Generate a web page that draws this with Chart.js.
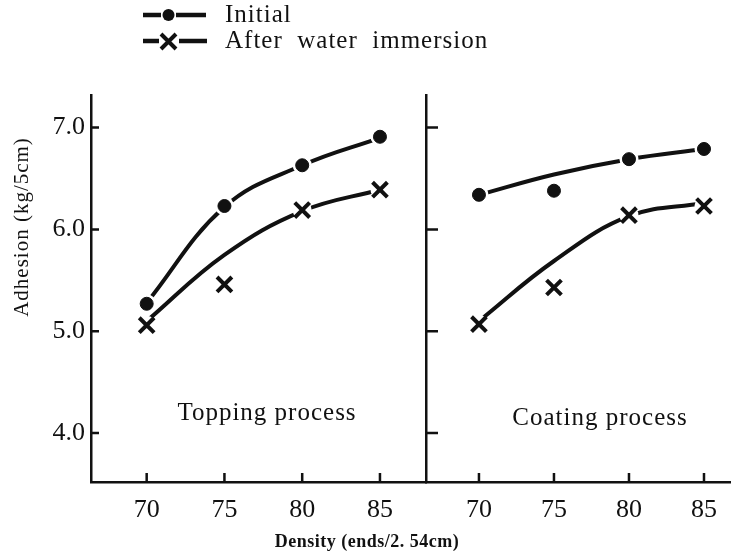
<!DOCTYPE html>
<html>
<head>
<meta charset="utf-8">
<script src="https://cdn.jsdelivr.net/npm/chart.js@4.4.4/dist/chart.umd.min.js"></script>
<style>
  body { margin: 0; background: #fff; }
  #wrap { position: relative; width: 731px; height: 554px; overflow: hidden; }
  canvas { position: absolute; top: 0; }
</style>
</head>
<body>
<div id="wrap">
  <canvas id="topping" width="731" height="554" style="left:0"></canvas>
  <canvas id="coating" width="315" height="554" style="left:416px"></canvas>
</div>
<script>
// Density (ends/2.54cm) on the x axis, adhesion (kg/5cm) on the y axis.
const densities = [70, 75, 80, 85];
const xTicks = [70, 75, 80, 85];
const yTicks = [4, 5, 6, 7];

const toppingInitial = [5.27, 6.23, 6.63, 6.91];
const toppingWater = [5.06, 5.46, 6.19, 6.39];
const coatingInitial = [6.34, 6.38, 6.69, 6.79];
const coatingWater = [5.07, 5.43, 6.14, 6.23];

// hand-drawn trend curves through the points
const toppingInitialFit = [5.28, 6.22, 6.63, 6.90];
const toppingWaterFit = [5.10, 5.75, 6.18, 6.39];
const coatingInitialFit = [6.34, 6.54, 6.69, 6.79];
const coatingWaterFit = [5.10, 5.69, 6.13, 6.26];

const INK = '#111';
const SERIF = '"Liberation Serif", "DejaVu Serif", serif';

function pts(values) {
  return densities.map((x, i) => ({ x, y: values[i] }));
}

// datasets draw first-on-top, so markers go first, then a white halo
// (the scanned curves break off just short of each marker), then curves
function panelDatasets(initial, water, initialFit, waterFit) {
  return [
    { label: 'Initial', data: pts(initial), showLine: false, pointStyle: 'circle',
      pointRadius: 6.5, backgroundColor: INK, borderColor: INK, borderWidth: 1 },
    { label: 'After water immersion', data: pts(water), showLine: false, pointStyle: 'crossRot',
      pointRadius: 10.5, borderColor: INK, borderWidth: 4 },
    { label: 'halo', data: pts(initial).concat(pts(water)), showLine: false, pointStyle: 'circle',
      pointRadius: 9.5, backgroundColor: '#fff', borderWidth: 0 },
    { label: 'Initial (curve)', data: pts(initialFit), showLine: true, pointRadius: 0,
      borderColor: INK, borderWidth: 4, tension: 0.4 },
    { label: 'After water immersion (curve)', data: pts(waterFit), showLine: true, pointRadius: 0,
      borderColor: INK, borderWidth: 4, tension: 0.4 }
  ];
}

// tick marks on these scans point into the plot, so draw them ourselves
const inwardTicks = {
  id: 'inwardTicks',
  afterDraw(chart, args, opts) {
    const { ctx, chartArea, scales } = chart;
    ctx.save();
    ctx.strokeStyle = INK;
    ctx.lineWidth = 2.5;
    ctx.beginPath();
    yTicks.forEach(v => {
      const y = scales.y.getPixelForValue(v);
      ctx.moveTo(chartArea.left, y);
      ctx.lineTo(chartArea.left + opts.yLen, y);
    });
    xTicks.forEach(v => {
      const x = scales.x.getPixelForValue(v);
      ctx.moveTo(x, chartArea.bottom);
      ctx.lineTo(x, chartArea.bottom - 9);
    });
    ctx.stroke();
    ctx.restore();
  }
};

const panelLabel = {
  id: 'panelLabel',
  afterDraw(chart, args, opts) {
    const { ctx, chartArea } = chart;
    ctx.save();
    ctx.fillStyle = INK;
    ctx.font = '25px ' + SERIF;
    ctx.letterSpacing = '1px';
    ctx.textAlign = 'center';
    ctx.textBaseline = 'middle';
    ctx.fillText(opts.text, chartArea.left + opts.dx, opts.y);
    ctx.restore();
  }
};

// legend, axis titles: drawn on the wide left canvas
const figureText = {
  id: 'figureText',
  afterDraw(chart) {
    const { ctx } = chart;
    ctx.save();
    ctx.fillStyle = INK;
    ctx.strokeStyle = INK;
    ctx.lineCap = 'butt';

    // legend
    ctx.lineWidth = 4.5;
    ctx.beginPath();
    ctx.moveTo(143, 15); ctx.lineTo(161, 15);
    ctx.moveTo(176, 15); ctx.lineTo(206, 15);
    ctx.moveTo(143, 41); ctx.lineTo(159, 41);
    ctx.moveTo(179, 41); ctx.lineTo(207, 41);
    ctx.stroke();
    ctx.beginPath();
    ctx.arc(168.5, 15, 6, 0, Math.PI * 2);
    ctx.fill();
    ctx.lineWidth = 4;
    ctx.beginPath();
    ctx.moveTo(161, 34); ctx.lineTo(176, 49);
    ctx.moveTo(176, 34); ctx.lineTo(161, 49);
    ctx.stroke();

    ctx.font = '25px ' + SERIF;
    ctx.letterSpacing = '1px';
    ctx.textAlign = 'left';
    ctx.textBaseline = 'middle';
    ctx.fillText('Initial', 225, 15);
    ctx.fillText('After  water  immersion', 225, 41);

    // x title
    ctx.font = 'bold 18px ' + SERIF;
    ctx.letterSpacing = '0.5px';
    ctx.textAlign = 'center';
    ctx.fillText('Density (ends/2. 54cm)', 367, 542);

    // y title
    ctx.translate(22, 227);
    ctx.rotate(-Math.PI / 2);
    ctx.font = '21px ' + SERIF;
    ctx.letterSpacing = '1px';
    ctx.fillText('Adhesion (kg/5cm)', 0, 0);
    ctx.restore();
  }
};

function scalesFor(xMin, xMax, showY, yWidth) {
  return {
    x: {
      type: 'linear', min: xMin, max: xMax,
      afterBuildTicks: s => { s.ticks = xTicks.map(v => ({ value: v })); },
      afterFit: s => { s.height = 72; },
      grid: { drawOnChartArea: false, drawTicks: false },
      border: { color: INK, width: 2.5 },
      ticks: { color: INK, padding: 13, font: { family: SERIF, size: 26 } }
    },
    y: {
      type: 'linear', min: 3.52, max: 7.32,
      afterBuildTicks: s => { s.ticks = yTicks.map(v => ({ value: v })); },
      afterFit: s => { s.width = yWidth; },
      grid: { drawOnChartArea: false, drawTicks: false },
      border: { color: INK, width: 2.5 },
      ticks: { display: showY, color: INK, padding: 6, font: { family: SERIF, size: 26 },
               callback: v => v.toFixed(1) }
    }
  };
}

const common = {
  responsive: false,
  animation: false,
  devicePixelRatio: 1,
  events: []
};

new Chart(document.getElementById('topping'), {
  type: 'scatter',
  data: { datasets: panelDatasets(toppingInitial, toppingWater, toppingInitialFit, toppingWaterFit) },
  options: {
    ...common,
    layout: { autoPadding: false, padding: { top: 95, right: 305, bottom: 0, left: 0 } },
    scales: scalesFor(66.42, 87.96, true, 91),
    plugins: {
      legend: { display: false },
      tooltip: { enabled: false },
      inwardTicks: { yLen: 8 },
      panelLabel: { text: 'Topping process', dx: 176, y: 413 }
    }
  },
  plugins: [inwardTicks, panelLabel, figureText]
});

new Chart(document.getElementById('coating'), {
  type: 'scatter',
  data: { datasets: panelDatasets(coatingInitial, coatingWater, coatingInitialFit, coatingWaterFit) },
  options: {
    ...common,
    layout: { autoPadding: false, padding: { top: 95, right: 0, bottom: 0, left: 0 } },
    scales: scalesFor(66.47, 86.8, false, 10),
    plugins: {
      legend: { display: false },
      tooltip: { enabled: false },
      inwardTicks: { yLen: 12 },
      panelLabel: { text: 'Coating process', dx: 174, y: 418 }
    }
  },
  plugins: [inwardTicks, panelLabel]
});
</script>
</body>
</html>
